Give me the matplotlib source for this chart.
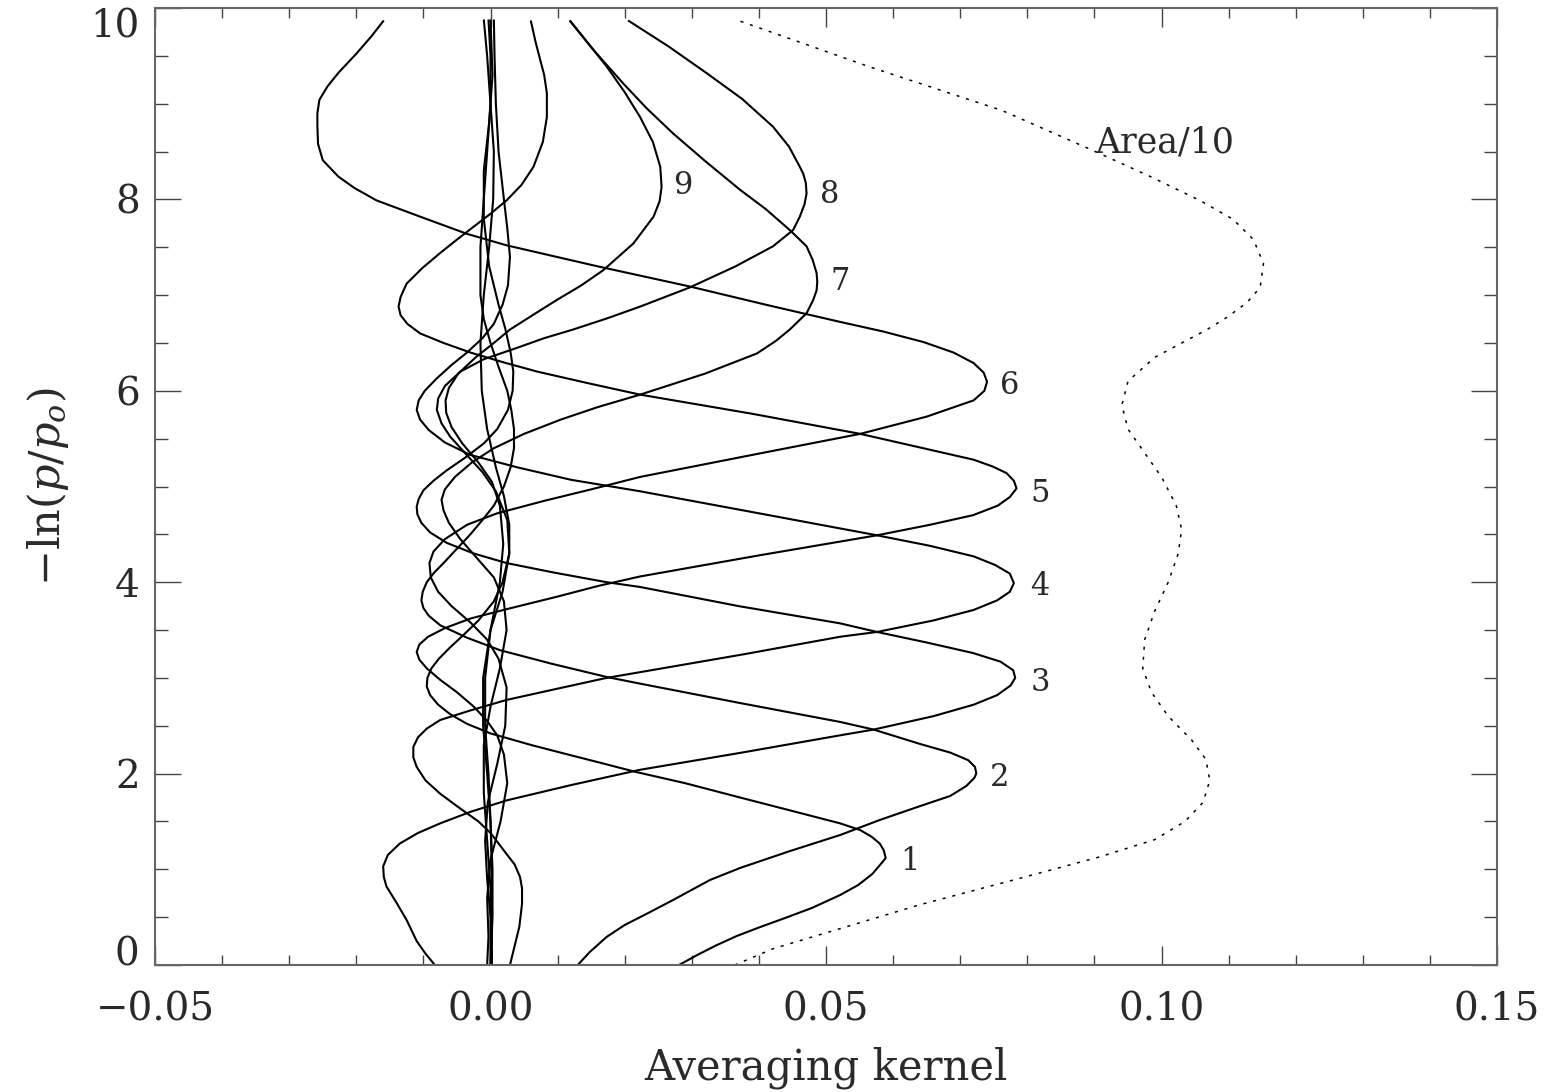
import matplotlib
matplotlib.use('Agg')
import matplotlib.pyplot as plt
from matplotlib.ticker import MultipleLocator

# ---------------- data (height y = -ln(p/p0), kernel value x) ----------------
K1_Y = [0, 0.104, 0.204, 0.303, 0.397, 0.491, 0.596, 0.731, 0.836, 0.951, 1.066, 1.118, 1.2, 1.27, 1.34, 1.41,
        1.48, 1.6, 1.75, 1.9, 2.02, 2.12, 2.2, 2.3, 2.42, 2.52, 2.62, 2.72, 2.82, 2.91, 3.0, 3.1, 3.2, 3.32, 3.45,
        3.6, 3.8, 4.0, 4.3, 4.6, 4.9, 5.2, 5.6, 6.0, 6.5, 7.0, 7.5, 8.0, 8.5, 9.0, 9.5, 9.88]
K1_X = [0.0281, 0.0308, 0.0336, 0.0367, 0.0402, 0.0439, 0.0479, 0.0521, 0.0548, 0.0569, 0.0583, 0.0589, 0.0586,
        0.0580, 0.0568, 0.0551, 0.0521, 0.0455, 0.0372, 0.0290, 0.0215, 0.0160, 0.0115, 0.0060, 0.0, -0.0035,
        -0.0060, -0.0078, -0.0090, -0.0095, -0.0094, -0.0088, -0.0077, -0.0060, -0.0040, -0.0018, 0.0005, 0.0018,
        0.0028, 0.0028, 0.0020, 0.0008, -0.0005, -0.0013, -0.0015, -0.0010, -0.0002, 0.0004, 0.0005, 0.0, -0.0005,
        -0.0010]

K2_Y = [0, 0.136, 0.293, 0.418, 0.543, 0.679, 0.888, 1.014, 1.19, 1.358, 1.515, 1.66, 1.766, 1.87, 1.954, 2.0,
        2.07, 2.14, 2.22, 2.31, 2.46, 2.54, 2.74, 2.94, 3.01, 3.15, 3.29, 3.42, 3.55, 3.65, 3.73, 3.81, 3.9, 4.0,
        4.1, 4.2, 4.35, 4.5, 4.65, 4.8, 5.0, 5.2, 5.4, 5.6, 5.8, 6.0, 6.25, 6.5, 6.75, 7.0, 7.5, 8.0, 8.5, 9.0,
        9.5, 9.88]
K2_X = [0.0130, 0.0148, 0.0173, 0.0200, 0.0235, 0.0272, 0.0327, 0.0372, 0.0446, 0.0521, 0.0580, 0.0640, 0.0685,
        0.0709, 0.0721, 0.0724, 0.0722, 0.0712, 0.0685, 0.0640, 0.0571, 0.0521, 0.0370, 0.0223, 0.0173, 0.0090,
        0.0014, -0.0035, -0.0075, -0.0092, -0.0100, -0.0103, -0.0101, -0.0095, -0.0084, -0.0070, -0.0050, -0.0030,
        -0.0012, 0.0005, 0.0020, 0.0030, 0.0035, 0.0035, 0.0031, 0.0025, 0.0012, 0.0, -0.0010, -0.0015, -0.0015,
        -0.0010, -0.0005, 0.0, 0.0, -0.0003]

K3_Y = [0, 0.12, 0.25, 0.47, 0.65, 0.82, 0.92, 1.03, 1.15, 1.27, 1.38, 1.48, 1.6, 1.72, 1.88, 2.04, 2.22, 2.40,
        2.46, 2.6, 2.72, 2.82, 2.92, 3.0, 3.08, 3.17, 3.26, 3.37, 3.48, 3.57, 3.75, 3.95, 4.0, 4.1, 4.2, 4.3, 4.41,
        4.52, 4.62, 4.71, 4.79, 4.87, 4.96, 5.06, 5.17, 5.3, 5.45, 5.6, 5.8, 6.0, 6.2, 6.4, 6.65, 6.9, 7.3, 7.8,
        8.3, 8.8, 9.3, 9.88]
K3_X = [-0.0083, -0.0097, -0.0110, -0.0125, -0.0140, -0.0155, -0.0159, -0.0160, -0.0153, -0.0135, -0.0108,
        -0.0075, -0.0030, 0.0024, 0.0120, 0.0223, 0.0375, 0.0521, 0.0571, 0.0660, 0.0720, 0.0755, 0.0775, 0.0782,
        0.0779, 0.0760, 0.0719, 0.0650, 0.0576, 0.0521, 0.0370, 0.0223, 0.0173, 0.0095, 0.0024, -0.0025, -0.0065,
        -0.0090, -0.0103, -0.0109, -0.0110, -0.0107, -0.0100, -0.0085, -0.0065, -0.0038, -0.0010, 0.0010, 0.0026,
        0.0033, 0.0034, 0.0030, 0.0022, 0.0012, -0.0002, -0.0010, -0.0010, -0.0002, 0.0003, 0.0]

K4_Y = [0, 0.2, 0.4, 0.64, 0.8, 0.92, 1.05, 1.15, 1.27, 1.38, 1.5, 1.65, 1.79, 1.93, 2.07, 2.17, 2.28, 2.38,
        2.47, 2.56, 2.66, 2.77, 2.88, 3.0, 3.06, 3.25, 3.43, 3.48, 3.6, 3.71, 3.81, 3.9, 3.99, 4.09, 4.18, 4.27,
        4.38, 4.49, 4.72, 4.95, 5.07, 5.2, 5.33, 5.46, 5.59, 5.7, 5.8, 5.9, 6.0, 6.13, 6.27, 6.4, 6.55, 6.7, 6.9,
        7.1, 7.4, 7.7, 8.0, 8.5, 9.0, 9.5, 9.88]
K4_X = [0.0029, 0.0036, 0.0043, 0.0047, 0.0047, 0.0044, 0.0036, 0.0025, 0.0012, 0.0, -0.0018, -0.0048, -0.0075,
        -0.0097, -0.0110, -0.0115, -0.0115, -0.0108, -0.0095, -0.0075, -0.0030, 0.0024, 0.0095, 0.0173, 0.0223,
        0.0380, 0.0521, 0.0576, 0.0660, 0.0720, 0.0755, 0.0774, 0.0780, 0.0774, 0.0752, 0.0720, 0.0655, 0.0576,
        0.0400, 0.0223, 0.0120, 0.0040, -0.0030, -0.0068, -0.0092, -0.0105, -0.0110, -0.0107, -0.0098, -0.0080,
        -0.0058, -0.0035, -0.0012, 0.0005, 0.0018, 0.0026, 0.0029, 0.0025, 0.0020, 0.0012, 0.0008, 0.0006, 0.0005]

K5_Y = [0, 0.3, 0.7, 1.1, 1.5, 1.9, 2.2, 2.4, 2.55, 2.7, 2.85, 2.98, 3.1, 3.19, 3.27, 3.35, 3.43, 3.52, 3.62,
        3.72, 3.85, 3.96, 4.06, 4.28, 4.49, 4.60, 4.70, 4.80, 4.89, 4.98, 5.06, 5.14, 5.21, 5.28, 5.40, 5.55,
        5.76, 5.96, 6.08, 6.2, 6.3, 6.4, 6.5, 6.6, 6.7, 6.79, 6.88, 6.98, 7.12, 7.28, 7.44, 7.58, 7.71, 7.85,
        7.99, 8.15, 8.34, 8.6, 8.86, 9.11, 9.3, 9.46, 9.65, 9.87]
K5_X = [-0.0005, -0.0003, -0.0005, 0.0, 0.0015, 0.0025, 0.0020, 0.0010, -0.0005, -0.0025, -0.0050, -0.0075,
        -0.0095, -0.0106, -0.0110, -0.0106, -0.0093, -0.0068, -0.0030, 0.0025, 0.0100, 0.0160, 0.0223, 0.0400,
        0.0576, 0.0655, 0.0719, 0.0756, 0.0774, 0.0784, 0.0780, 0.0769, 0.0748, 0.0720, 0.0645, 0.0551, 0.0390,
        0.0223, 0.0145, 0.0070, 0.0018, -0.0030, -0.0070, -0.0105, -0.0124, -0.0134, -0.0137, -0.0134, -0.0125,
        -0.0102, -0.0075, -0.0050, -0.0026, 0.0, 0.0024, 0.0046, 0.0064, 0.0078, 0.0084, 0.0084, 0.0080, 0.0074,
        0.0067, 0.0060]

K6_Y = [0, 0.5, 0.9, 1.3, 1.7, 2.1, 2.5, 2.9, 3.2, 3.4, 3.58, 3.75, 3.9, 4.05, 4.2, 4.32, 4.45, 4.6, 4.72, 4.85,
        4.97, 5.10, 5.33, 5.55, 5.73, 5.90, 6.0, 6.095, 6.19, 6.29, 6.40, 6.51, 6.62, 6.72, 6.9, 7.09, 7.3, 7.52,
        7.64, 7.82, 7.99, 8.12, 8.24, 8.41, 8.58, 8.76, 8.9, 9.04, 9.18, 9.32, 9.53, 9.7, 9.87]
K6_X = [0.0, 0.0, -0.0005, -0.0008, -0.0004, 0.0010, 0.0022, 0.0024, 0.0012, -0.0005, -0.0030, -0.0058, -0.0078,
        -0.0089, -0.0091, -0.0085, -0.0068, -0.0035, 0.0010, 0.0080, 0.0150, 0.0223, 0.0390, 0.0551, 0.0650,
        0.0720, 0.0736, 0.0740, 0.0735, 0.0720, 0.0690, 0.0645, 0.0585, 0.0521, 0.0410, 0.0297, 0.0160, 0.0024,
        -0.0035, -0.0105, -0.0170, -0.0203, -0.0227, -0.0250, -0.0257, -0.0258, -0.0258, -0.0255, -0.0243,
        -0.0227, -0.0199, -0.0178, -0.0159]

K7_Y = [0, 0.8, 1.3, 1.8, 2.3, 2.7, 3.1, 3.5, 3.8, 4.05, 4.25, 4.45, 4.62, 4.75, 4.86, 4.97, 5.1, 5.25, 5.4,
        5.55, 5.7, 5.83, 5.96, 6.18, 6.39, 6.52, 6.64, 6.81, 6.95, 7.05, 7.14, 7.23, 7.37, 7.51, 7.68, 7.9, 8.10,
        8.4, 8.69, 8.95, 9.21, 9.55, 9.87]
K7_X = [0.0002, 0.0, -0.0005, -0.0010, -0.0010, 0.0, 0.0014, 0.0024, 0.0020, 0.0005, -0.0020, -0.0045, -0.0062,
        -0.0070, -0.0073, -0.0068, -0.0053, -0.0028, 0.0005, 0.0050, 0.0105, 0.0160, 0.0223, 0.0320, 0.0397,
        0.0425, 0.0446, 0.0471, 0.0481, 0.0486, 0.0487, 0.0486, 0.0480, 0.0471, 0.0446, 0.0410, 0.0372, 0.0320,
        0.0272, 0.0233, 0.0198, 0.0155, 0.0118]

K8_Y = [0, 0.5, 1.0, 1.5, 2.0, 2.5, 3.0, 3.5, 3.9, 4.3, 4.65, 4.95, 5.15, 5.35, 5.52, 5.66, 5.8, 5.92, 6.05, 6.2,
        6.33, 6.45, 6.55, 6.64, 6.76, 6.88, 7.08, 7.3, 7.51, 7.68, 7.82, 7.95, 8.06, 8.17, 8.27, 8.34, 8.55, 8.76,
        9.05, 9.32, 9.6, 9.87]
K8_X = [0.0, 0.0003, 0.0003, 0.0, -0.0005, -0.0011, -0.0011, 0.0, 0.0018, 0.0028, 0.0025, 0.0008, -0.0012,
        -0.0038, -0.0060, -0.0073, -0.0080, -0.0078, -0.0068, -0.0045, -0.0010, 0.0040, 0.0080, 0.0123, 0.0175,
        0.0223, 0.0297, 0.0365, 0.0421, 0.0451, 0.0461, 0.0468, 0.0471, 0.0470, 0.0466, 0.0461, 0.0445, 0.0421,
        0.0375, 0.0322, 0.0265, 0.0205]

K9_Y = [0, 1.0, 1.5, 2.0, 2.5, 3.0, 3.5, 4.0, 4.4, 4.8, 5.05, 5.25, 5.45, 5.62, 5.77, 5.9, 6.03, 6.18, 6.35, 6.5,
        6.64, 6.8, 6.95, 7.1, 7.26, 7.54, 7.82, 7.98, 8.13, 8.34, 8.6, 8.86, 9.12, 9.39, 9.87]
K9_X = [0.0002, 0.0002, 0.0, -0.0003, -0.0008, -0.0008, 0.0, 0.0014, 0.0019, 0.0014, 0.0002, -0.0018, -0.0042,
        -0.0058, -0.0066, -0.0067, -0.0062, -0.0048, -0.0022, 0.0005, 0.0029, 0.0065, 0.0099, 0.0135, 0.0168,
        0.0213, 0.0243, 0.0252, 0.0255, 0.0253, 0.0242, 0.0223, 0.0200, 0.0173, 0.0118]

AREA_Y = [0, 0.17, 0.38, 0.63, 0.906, 1.13, 1.31, 1.5, 1.7, 1.93, 2.15, 2.35, 2.6, 2.85, 3.1, 3.4, 3.7, 4.0, 4.3,
          4.55, 4.8, 5.1, 5.35, 5.6, 5.85, 6.1, 6.35, 6.64, 6.77, 6.92, 7.08, 7.33, 7.58, 7.79, 7.99, 8.24, 8.52,
          8.93, 9.39, 9.885]
AREA_X = [0.0364, 0.0421, 0.0521, 0.0640, 0.0789, 0.0908, 0.0990, 0.1035, 0.1062, 0.1072, 0.1066, 0.1045, 0.1010,
          0.0985, 0.0972, 0.0975, 0.0990, 0.1010, 0.1025, 0.1030, 0.1022, 0.1000, 0.0975, 0.0950, 0.0941, 0.0950,
          0.0990, 0.1068, 0.1098, 0.1127, 0.1147, 0.1152, 0.1137, 0.1107, 0.1057, 0.0983, 0.0895, 0.0762, 0.0563,
          0.0363]

KERNEL_LABELS = ['1', '2', '3', '4', '5', '6', '7', '8', '9']
LABEL_X = [0.0625, 0.0759, 0.0819, 0.0819, 0.0819, 0.0774, 0.0521, 0.0506, 0.0287]
LABEL_Y = [1.08, 1.96, 2.95, 3.95, 4.93, 6.06, 7.14, 8.05, 8.15]

XTICKS = [-0.05, 0.0, 0.05, 0.10, 0.15]
XTICK_LABELS = ['\u22120.05', '0.00', '0.05', '0.10', '0.15']
YTICKS = [0, 2, 4, 6, 8, 10]
YTICK_LABELS = ['0', '2', '4', '6', '8', '10']

# ---------------- figure ----------------
plt.rcParams['font.family'] = ['DejaVu Serif']
plt.rcParams['mathtext.fontset'] = 'dejavuserif'

W, H = 1552, 1092
fig = plt.figure(figsize=(W / 100, H / 100), dpi=100)
ax = fig.add_axes([155 / W, 1 - 965 / H, (1497 - 155) / W, (965 - 8) / H])

kernels = [(K1_X, K1_Y), (K2_X, K2_Y), (K3_X, K3_Y), (K4_X, K4_Y), (K5_X, K5_Y),
           (K6_X, K6_Y), (K7_X, K7_Y), (K8_X, K8_Y), (K9_X, K9_Y)]
for kx, ky in kernels:
    ax.plot(kx, ky, color='black', lw=1.5, solid_joinstyle='round', solid_capstyle='butt')

ax.plot(AREA_X, AREA_Y, color='black', lw=1.1, linestyle=(0, (2.0, 4.5)), dash_capstyle='butt')

txtc = '#2a2a2a'
for lab, lx, ly in zip(KERNEL_LABELS, LABEL_X, LABEL_Y):
    ax.text(lx, ly, lab, fontsize=22, ha='center', va='center', color=txtc)
ax.text(0.0902, 8.59, 'Area/10', fontsize=25, ha='left', va='center', color=txtc)

ax.set_xlim(-0.05, 0.15)
ax.set_ylim(0, 10)
ax.set_xticks(XTICKS, XTICK_LABELS)
ax.set_yticks(YTICKS, YTICK_LABELS)
ax.xaxis.set_minor_locator(MultipleLocator(0.01))
ax.yaxis.set_minor_locator(MultipleLocator(0.5))

ax.tick_params(which='both', direction='in', top=True, right=True, colors='#444444', labelcolor=txtc)
ax.tick_params(axis='x', which='major', length=14, width=1.0, pad=19, labelsize=28)
ax.tick_params(axis='x', which='minor', length=7, width=1.0)
ax.tick_params(axis='y', which='major', length=19, width=1.0, pad=11, labelsize=28)
ax.tick_params(axis='y', which='minor', length=9.5, width=1.0)

ylabs = ax.get_yticklabels()
ylabs[0].set_va('baseline')
ylabs[-1].set_va('top')

for s in ax.spines.values():
    s.set_color('#666666')
    s.set_linewidth(1.5)

ax.set_xlabel('Averaging kernel', fontsize=30, color=txtc, labelpad=13)
ax.set_ylabel(r'$-\mathrm{ln}(p/p_o)$', fontsize=31, color=txtc, labelpad=14)

fig.savefig('out.png', dpi=100)
